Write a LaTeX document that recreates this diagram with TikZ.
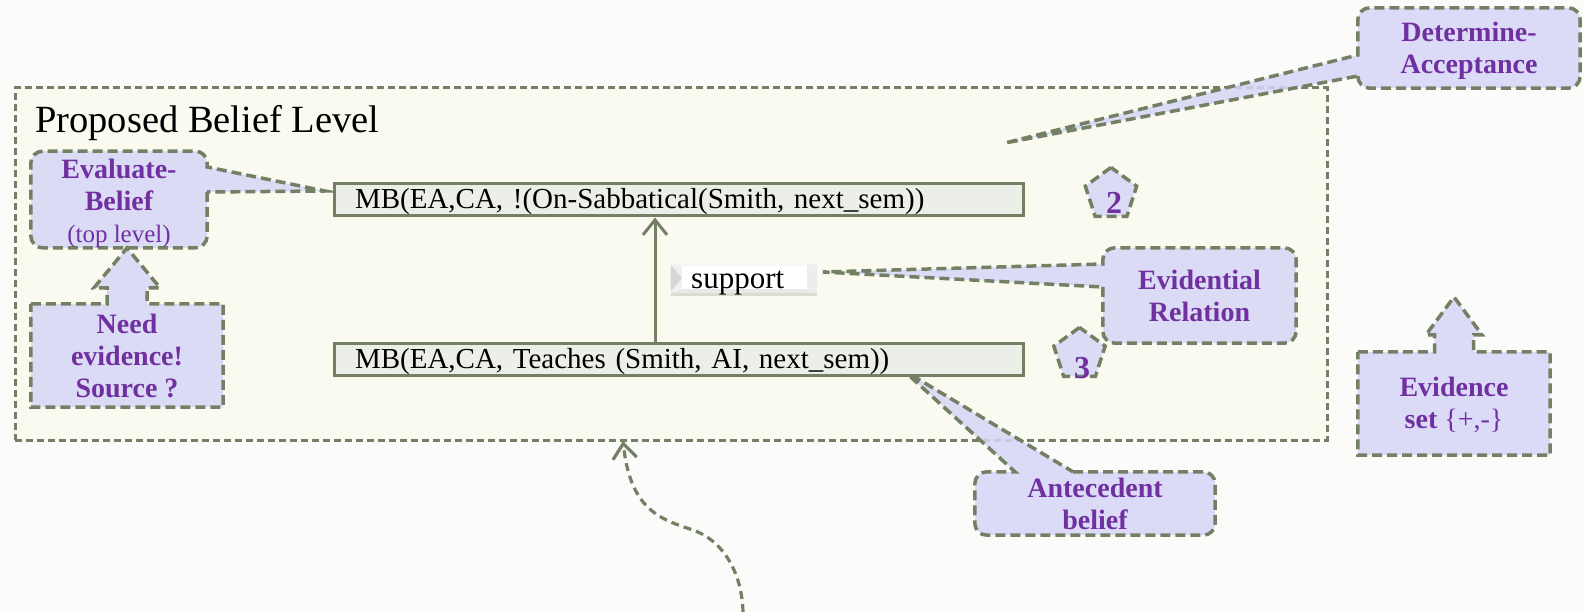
\documentclass[tikz,border=0pt]{standalone}
\usepackage{fontspec}
\setmainfont{Liberation Serif}
\usetikzlibrary{arrows.meta,shapes.geometric,shadows}

\definecolor{olive}{RGB}{116,128,100}
\definecolor{lav}{RGB}{214,214,248}
\definecolor{purp}{RGB}{112,48,160}
\definecolor{cream}{RGB}{250,250,240}
\definecolor{mbfill}{RGB}{236,239,232}
\definecolor{page}{RGB}{251,251,249}

\pgfdeclarelayer{back}
\pgfsetlayers{back,main}

\tikzset{
  levelbox/.style={draw=olive, fill=cream, line width=3pt,
    dash pattern=on 7pt off 4pt, minimum width=1312pt, minimum height=352pt, inner sep=0pt},
  mbbox/.style={draw=olive, fill=mbfill, line width=3pt,
    minimum width=689pt, minimum height=32pt, text width=647pt,
    inner xsep=21pt, inner ysep=0pt, text height=21pt, text depth=3pt,
    align=left, font=\fontsize{29}{34}\selectfont},
  supportarrow/.style={draw=olive, line width=3pt,
    -{Straight Barb[length=15pt,width=24pt]}},
  callout/.style={fill=lav, fill opacity=0.85, draw=olive, draw opacity=1,
    line width=3.5pt, dash pattern=on 10pt off 5pt},
  calltext/.style={text=purp, font=\bfseries\fontsize{28}{32}\selectfont,
    align=center, inner sep=0pt},
  pent/.style={regular polygon, regular polygon sides=5, minimum size=54pt,
    inner sep=0pt, fill=lav, fill opacity=0.85, draw=olive, draw opacity=1,
    line width=3.5pt, dash pattern=on 10pt off 5pt},
  digit/.style={text=purp, font=\bfseries\fontsize{32}{36}\selectfont, inner sep=0pt},
  curvearrow/.style={draw=olive, line width=3.2pt, dash pattern=on 8pt off 5pt,
    -{Straight Barb[length=15pt,width=24pt]}},
}

\begin{document}
\begin{tikzpicture}[x=1pt,y=-1pt]

% page and the belief-level frame
\begin{pgfonlayer}{back}
  \fill[page] (0,0) rectangle (1583,612);
  \node[levelbox] (level) at (671,264) {};
\end{pgfonlayer}
\useasboundingbox (0,0) rectangle (1583,612);

\node[anchor=base west, inner sep=0pt, font=\fontsize{38.5}{46}\selectfont]
  (title) at (35,133) {Proposed Belief Level};

% the two beliefs and the support link
\node[mbbox] (mb1) at (678.5,200) {MB(EA,CA, !(On-Sabbatical(Smith, next\_sem))};
\node[mbbox] (mb2) at (678.5,360) {MB(EA,CA, Teaches (Smith, AI, next\_sem))};
\coordinate (sx) at (655,0);
\draw[supportarrow] (mb2.north -| sx) -- (mb1.south -| sx);

% bevelled "support" label
\node[fill=white, minimum width=146pt, minimum height=30pt, inner sep=0pt,
  drop shadow={shadow xshift=0pt, shadow yshift=-3pt, opacity=0.25}] (sup) at (744,278) {};
\fill[gray!6] (sup.north west) -- (sup.north east) -- ++(-10,3) -- ([xshift=11pt,yshift=-3pt]sup.north west) -- cycle;
\fill[gray!14] (sup.north east) -- (sup.south east) -- ++(-10,-4) -- ([xshift=-10pt,yshift=-3pt]sup.north east) -- cycle;
\fill[gray!18] (sup.south west) -- (sup.south east) -- ++(-10,-4) -- ([xshift=11pt,yshift=4pt]sup.south west) -- cycle;
\fill[gray!12] (sup.north west) -- ([xshift=11pt,yshift=-3pt]sup.north west) -- ([xshift=11pt,yshift=4pt]sup.south west) -- (sup.south west) -- cycle;
\fill[gray!32] ([yshift=-2pt]sup.north west) -- ([xshift=11pt]sup.west) -- ([yshift=2pt]sup.south west) -- cycle;
\fill[white] ([xshift=11pt,yshift=-3pt]sup.north west) rectangle ([xshift=-10pt,yshift=4pt]sup.south east);
\node[anchor=base west, inner sep=0pt, font=\fontsize{31}{36}\selectfont]
  (suptext) at (691,289) {support};

% numbered pentagons
\node[pent] (p2) at (1111,194.5) {};
\node[digit, anchor=base] (n2) at (1114,214) {2};
\node[pent] (p3) at (1079.5,354.5) {};
\node[digit, anchor=base] (n3) at (1082,379) {3};

% callout texts
\node[calltext, minimum width=176pt, minimum height=95pt] (evb) at (119,199.5)
  {\rule{0pt}{27pt}Evaluate-\\Belief\\\mdseries\fontsize{25}{30}\selectfont(top level)};
\node[calltext, minimum width=192pt, minimum height=103pt] (need) at (127,355.5)
  {Need\\evidence!\\Source ?};
\node[calltext, minimum width=222pt, minimum height=80pt] (det) at (1469,48)
  {\rule{0pt}{24pt}Determine-\\Acceptance};
\node[calltext, minimum width=193pt, minimum height=95pt] (evr) at (1199.5,295.5)
  {Evidential\\Relation};
\node[calltext, minimum width=192pt, minimum height=103pt] (evs) at (1454,403.5)
  {\rule{0pt}{23pt}Evidence\\set {\mdseries\{+,-\}}};
\node[calltext, minimum width=240pt, minimum height=63pt] (ant) at (1095,503.5)
  {Antecedent\\belief};

\coordinate (evbtip) at (325,191);
\coordinate (needtip) at (127,248);
\coordinate (dettip) at (1005,143);
\coordinate (evrtip) at (823,272);
\coordinate (evstip) at (1454,297);
\coordinate (anttip) at (903,370);

% callout outlines
\begin{pgfonlayer}{back}
  \path[callout] (evb.east |- 0,192) [rounded corners=12pt] -- (evb.south east)
    -- (evb.south west) -- (evb.north west) -- (evb.north east) [sharp corners]
    -- (evb.east |- 0,167) -- (evbtip) -- cycle;
  \path[callout] (need.north west) -- ([xshift=-20pt]need.north) -- ++(0,-16)
    -- ++(-13,0) -- (needtip) -- ([xshift=33pt,yshift=16pt]need.north) -- ++(-13,0)
    -- ++(0,16) -- (need.north east) -- (need.south east) -- (need.south west) -- cycle;
  \path[callout] (det.west |- 0,76) [rounded corners=12pt] -- (det.south west)
    -- (det.south east) -- (det.north east) -- (det.north west) [sharp corners]
    -- (det.west |- 0,55) -- (dettip) -- cycle;
  \path[callout] (evr.west |- 0,287) [rounded corners=12pt] -- (evr.south west)
    -- (evr.south east) -- (evr.north east) -- (evr.north west) [sharp corners]
    -- (evr.west |- 0,264) -- (evrtip) -- cycle;
  \path[callout] (evs.north west) -- ([xshift=-19.5pt]evs.north) -- ++(0,-17)
    -- ++(-8.5,0) -- (evstip) -- ([xshift=28pt,yshift=17pt]evs.north) -- ++(-8.5,0)
    -- ++(0,17) -- (evs.north east) -- (evs.south east) -- (evs.south west) -- cycle;
  \path[callout] (ant.north -| 1073,0) [rounded corners=12pt] -- (ant.north east)
    -- (ant.south east) -- (ant.south west) -- (ant.north west) [sharp corners]
    -- (ant.north -| 1015,0) -- (anttip) -- cycle;
\end{pgfonlayer}

% dashed link rising into the frame from below
\coordinate (cfoot) at (743,612);
\coordinate (ctip) at (623,441);
\draw[curvearrow] (cfoot) .. controls (742,575) and (725,540) .. (690,529)
  .. controls (655,518) and (630,505) .. (ctip);

\end{tikzpicture}
\end{document}
